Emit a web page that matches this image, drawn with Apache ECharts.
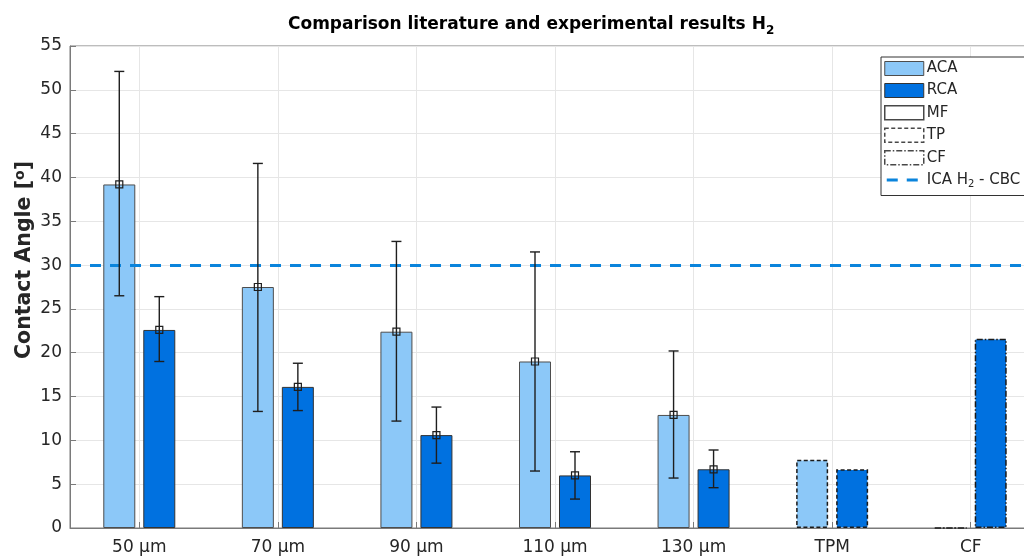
<!DOCTYPE html>
<html>
<head>
<meta charset="utf-8">
<script src="https://cdn.jsdelivr.net/npm/echarts@6/dist/echarts.min.js"></script>
<style>
  html, body { margin: 0; padding: 0; background: #fff; overflow: hidden; width: 1024px; height: 560px; }
  /* the axes run a little past the right edge of the window */
  #chart { width: 1040px; height: 560px; }
</style>
</head>
<body>
<div id="chart"></div>
<script>
// Contact angle data (degrees)
const categories = ['50 µm', '70 µm', '90 µm', '110 µm', '130 µm', 'TPM', 'CF'];
const acaValues = [39.2, 27.5, 22.4, 19.0, 12.9, 7.8, 0];
const rcaValues = [22.6, 16.1, 10.6, 6.0, 6.7, 6.7, 21.6];
// Error ranges for the measured samples (first five categories)
const acaLow  = [26.5, 13.3, 12.2, 6.5, 5.7];
const acaHigh = [52.1, 41.6, 32.7, 31.5, 20.2];
const rcaLow  = [19.0, 13.4, 7.4, 3.3, 4.6];
const rcaHigh = [26.4, 18.8, 13.8, 8.7, 8.9];
// Reference value: intrinsic contact angle H2 - CBC
const icaValue = 30;
const yTicks = { min: 0, max: 55, interval: 5 };

const FONT = 'DejaVu Sans';
const TEXT = '#262626';
const AXIS = '#7a7a7a';
const ACA_COLOR = '#8cc8f8';
const RCA_COLOR = '#0071e0';
const ICA_COLOR = '#0a84dc';
const BAR_W = 32;
const BAR_GAP = 8;
const DASH = [4, 2.5];
const DASH_DOT = [6, 2, 1.5, 2];
const ICA_NAME = 'ICA H\u2082 - CBC';
// legend glyph: two short dashes, framed by invisible corner points so it keeps its proportions
const DASH_ICON = 'path://M0,0 L0.01,0 L0,0.01 Z M2,5.5 L13,5.5 L13,8.5 L2,8.5 Z M22,5.5 L33,5.5 L33,8.5 L22,8.5 Z M39,14 L38.99,14 L39,13.99 Z';

// literature entries (TPM, CF) get dashed / dash-dot outlines
function barItems(values) {
  return values.map((v, i) => {
    const item = { value: v };
    if (categories[i] === 'TPM') item.itemStyle = { borderType: DASH, borderColor: '#1a1a1a', borderWidth: 1.5 };
    if (categories[i] === 'CF') item.itemStyle = { borderType: DASH_DOT, borderColor: '#1a1a1a', borderWidth: 1.5 };
    return item;
  });
}

function errorItems(low, high, mid) {
  return low.map((lo, i) => [i, lo, high[i], mid[i]]);
}

function errorSeries(name, data, side) {
  return {
    type: 'custom',
    name: name,
    z: 5,
    silent: true,
    data: data,
    encode: { x: 0, y: [1, 2, 3] },
    renderItem: function (params, api) {
      const idx = api.value(0);
      const shift = side * (BAR_W + BAR_GAP) / 2;
      const lo = api.coord([idx, api.value(1)]);
      const hi = api.coord([idx, api.value(2)]);
      const mid = api.coord([idx, api.value(3)]);
      const x = lo[0] + shift;
      const cap = 5;
      const m = 3.5;
      const style = { stroke: '#1e1e1e', lineWidth: 1.4, fill: null };
      return {
        type: 'group',
        children: [
          { type: 'line', shape: { x1: x, y1: lo[1], x2: x, y2: hi[1] }, style: style },
          { type: 'line', shape: { x1: x - cap, y1: hi[1], x2: x + cap, y2: hi[1] }, style: style },
          { type: 'line', shape: { x1: x - cap, y1: lo[1], x2: x + cap, y2: lo[1] }, style: style },
          { type: 'rect', shape: { x: x - m, y: mid[1] - m, width: 2 * m, height: 2 * m }, style: { stroke: '#1e1e1e', lineWidth: 1.2, fill: 'rgba(0,0,0,0)' } }
        ]
      };
    }
  };
}

const chart = echarts.init(document.getElementById('chart'), null, { renderer: 'canvas' });

const outline = { color: '#fff', borderColor: '#1a1a1a', borderWidth: 1.5 };

chart.setOption({
  animation: false,
  backgroundColor: '#ffffff',
  textStyle: { fontFamily: FONT, color: TEXT },
  title: {
    text: '{t|Comparison literature and experimental results H}{s|2}',
    left: 283,
    top: 8,
    textStyle: {
      rich: {
        t: { fontFamily: FONT, fontSize: 17, fontWeight: 'bold', color: '#000' },
        s: { fontFamily: FONT, fontSize: 12, fontWeight: 'bold', color: '#000', padding: [12, 0, 0, 0] }
      }
    }
  },
  graphic: [{
    type: 'text',
    x: 25,
    y: 260,
    rotation: Math.PI / 2,
    style: {
      text: '{n|Contact Angle [}{s|o}{n|]}',
      align: 'center',
      verticalAlign: 'middle',
      rich: {
        n: { fontFamily: FONT, fontSize: 20.5, fontWeight: 'bold', fill: TEXT },
        s: { fontFamily: FONT, fontSize: 14, fontWeight: 'bold', fill: TEXT, padding: [0, 0, 10, 0] }
      }
    }
  }],
  legend: {
    orient: 'vertical',
    left: 881,
    top: 57,
    padding: [4, 60, 6, 3],
    itemWidth: 39,
    itemHeight: 14,
    itemGap: 7,
    selectedMode: false,
    backgroundColor: '#fff',
    borderColor: '#333',
    borderWidth: 1,
    data: [
      { name: 'ACA', icon: 'rect', itemStyle: { color: ACA_COLOR, borderColor: '#4d4d4d', borderWidth: 1 } },
      { name: 'RCA', icon: 'rect', itemStyle: { color: RCA_COLOR, borderColor: '#333', borderWidth: 1 } },
      { name: 'MF', icon: 'rect', itemStyle: Object.assign({}, outline) },
      { name: 'TP', icon: 'rect', itemStyle: Object.assign({ borderType: DASH }, outline) },
      { name: 'CF', icon: 'rect', itemStyle: Object.assign({ borderType: DASH_DOT }, outline) },
      { name: ICA_NAME, icon: DASH_ICON, itemStyle: { color: ICA_COLOR, borderWidth: 0 } }
    ],
    formatter: function (name) {
      return name === ICA_NAME ? '{a|ICA H}{b|2}{a| - CBC}' : name;
    },
    textStyle: {
      fontFamily: FONT, fontSize: 15, color: TEXT, padding: [0, 0, 0, -2],
      rich: {
        a: { fontFamily: FONT, fontSize: 15, color: TEXT },
        b: { fontFamily: FONT, fontSize: 10, color: TEXT, padding: [9, 0, 0, 0] }
      }
    }
  },
  grid: {
    left: 70,
    right: 0,
    top: 46,
    bottom: 32,
    show: true,
    borderColor: AXIS,
    borderWidth: 1,
    backgroundColor: '#fff'
  },
  xAxis: {
    type: 'category',
    data: categories,
    axisLine: { lineStyle: { color: AXIS, width: 1 } },
    axisTick: { show: true, inside: true, alignWithLabel: true, length: 6, lineStyle: { color: AXIS } },
    axisLabel: { fontFamily: FONT, fontSize: 17, color: TEXT, margin: 11 },
    splitLine: { show: true, alignWithLabel: true, lineStyle: { color: '#e6e6e6', width: 1 } }
  },
  yAxis: {
    type: 'value',
    min: yTicks.min,
    max: yTicks.max,
    interval: yTicks.interval,
    axisLine: { show: true, lineStyle: { color: AXIS, width: 1 } },
    axisTick: { show: true, inside: true, length: 6, lineStyle: { color: AXIS } },
    axisLabel: { fontFamily: FONT, fontSize: 17, color: TEXT, margin: 8 },
    splitLine: { show: true, lineStyle: { color: '#e6e6e6', width: 1 } }
  },
  series: [
    {
      name: 'ACA',
      type: 'bar',
      barWidth: BAR_W,
      barGap: (BAR_GAP / BAR_W * 100) + '%',
      data: barItems(acaValues),
      itemStyle: { color: ACA_COLOR, borderColor: '#4d4d4d', borderWidth: 1 },
      z: 3
    },
    {
      name: 'RCA',
      type: 'bar',
      barWidth: BAR_W,
      barGap: (BAR_GAP / BAR_W * 100) + '%',
      data: barItems(rcaValues),
      itemStyle: { color: RCA_COLOR, borderColor: '#333', borderWidth: 1 },
      z: 3
    },
    // outline-style keys (no marks of their own)
    { name: 'MF', type: 'scatter', data: [], itemStyle: Object.assign({}, outline) },
    { name: 'TP', type: 'scatter', data: [], itemStyle: Object.assign({ borderType: DASH }, outline) },
    { name: 'CF', type: 'scatter', data: [], itemStyle: Object.assign({ borderType: DASH_DOT }, outline) },
    {
      name: ICA_NAME,
      type: 'line',
      data: [],
      symbol: 'none',
      lineStyle: { color: ICA_COLOR, width: 3, type: [11, 9] },
      itemStyle: { color: ICA_COLOR },
      markLine: {
        silent: true,
        symbol: 'none',
        label: { show: false },
        lineStyle: { color: ICA_COLOR, width: 3, type: [11, 9] },
        data: [{ yAxis: icaValue }]
      },
      z: 4
    },
    errorSeries('ACA error', errorItems(acaLow, acaHigh, acaValues), -1),
    errorSeries('RCA error', errorItems(rcaLow, rcaHigh, rcaValues), 1)
  ]
});
</script>
</body>
</html>
